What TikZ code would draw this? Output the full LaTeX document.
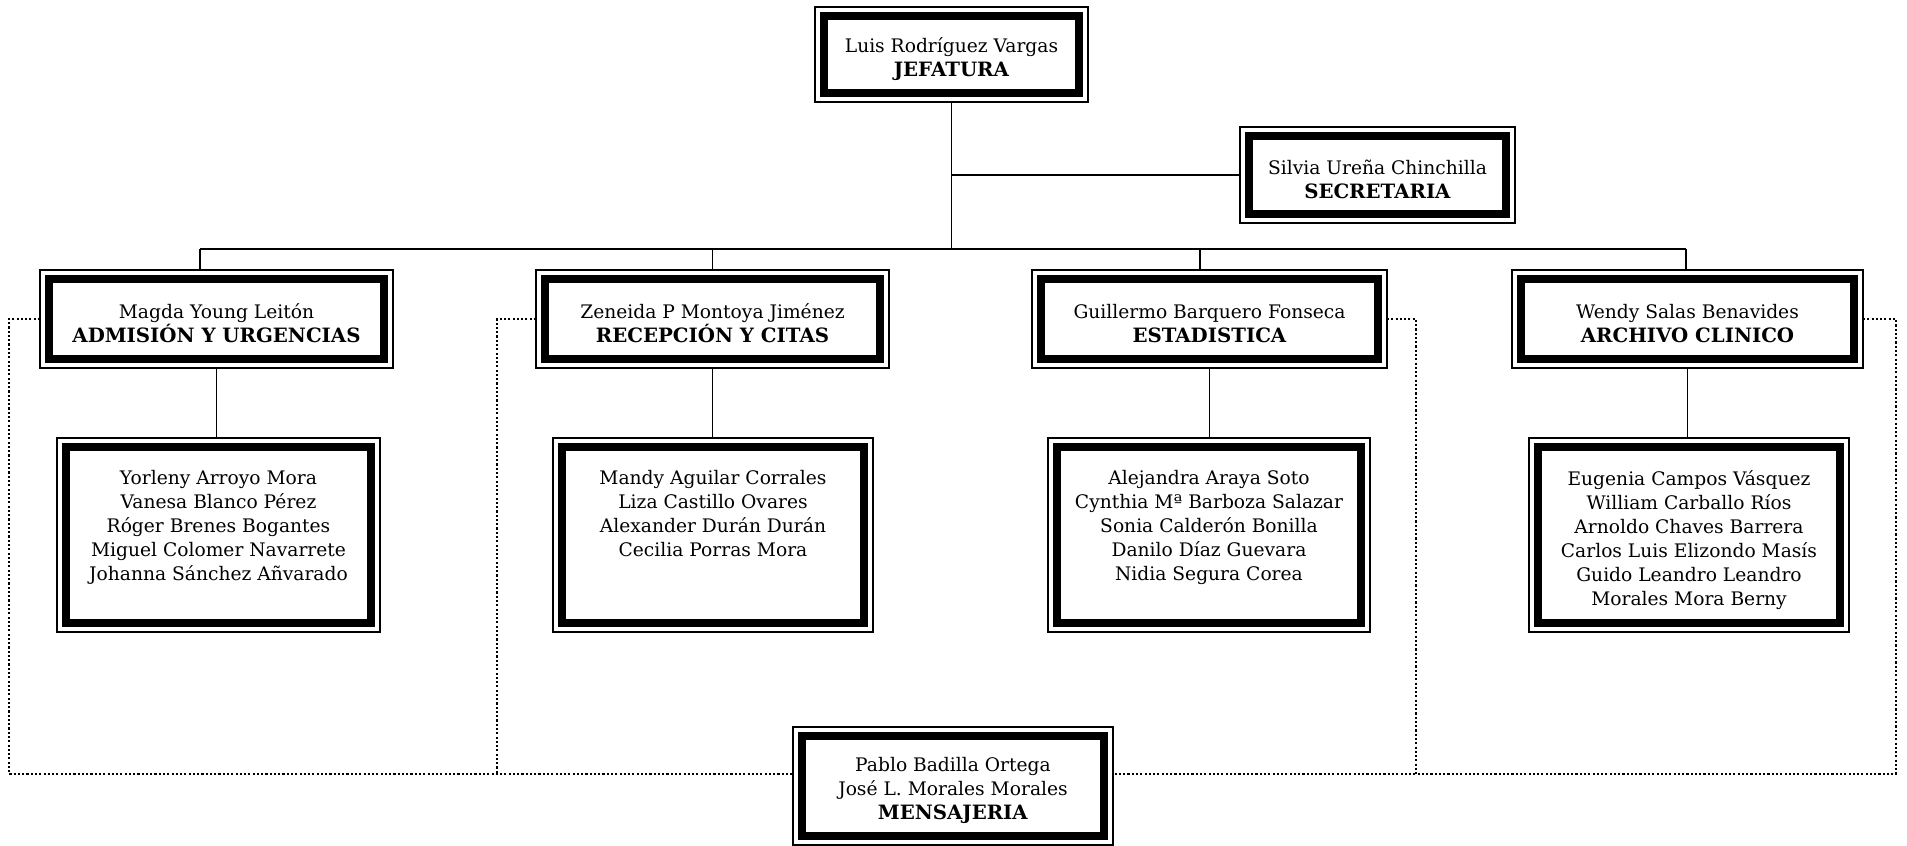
\documentclass[tikz,border=0pt]{standalone}
\usepackage{fontspec}
\setmainfont{DejaVu Serif}
\newcommand\hd[1]{\textbf{\fontsize{14.8}{18}\selectfont #1}}
\tikzset{
  obox/.style={draw, line width=1.1pt, inner sep=0pt, outer sep=0pt},
  thickframe/.style={line width=6pt},
  boxtext/.style={align=center, inner sep=0pt, font=\fontsize{14}{18}\selectfont},
  link/.style={line width=1.1pt},
  dotlink/.style={line width=1.6pt, dash pattern=on 1.6pt off 1.6pt},
  names/.style={align=center, inner sep=0pt, anchor=north,
    font=\fontsize{14}{18}\selectfont},
}
\newcommand\framedbox[6]{%
  \node[obox, minimum width={(#4-#2)*0.75pt}, minimum height={(#5-#3)*0.75pt}]
    (#1) at ({(#2+#4)/2},{(#3+#5)/2}) {};
  \draw[thickframe] ([shift={(9,9)}]#1.north west) rectangle ([shift={(-9,-9)}]#1.south east);
  \node[boxtext] (#1-t) at ([yshift=-3.5pt]#1.center) {#6};
}
\begin{document}
\begin{tikzpicture}[x=0.75pt,y=-0.75pt]
\useasboundingbox (0,0) rectangle (1907,846);
% top level
\framedbox{jef}{815}{7}{1088}{102}{Luis Rodríguez Vargas\\\hd{JEFATURA}}
\framedbox{sec}{1240}{127}{1515}{223}{Silvia Ureña Chinchilla\\\hd{SECRETARIA}}
% level 2
\framedbox{adm}{40}{270}{393}{368}{Magda Young Leitón\\\hd{ADMISIÓN Y URGENCIAS}}
\framedbox{rec}{536}{270}{889}{368}{Zeneida P Montoya Jiménez\\\hd{RECEPCIÓN Y CITAS}}
\framedbox{est}{1032}{270}{1387}{368}{Guillermo Barquero Fonseca\\\hd{ESTADISTICA}}
\framedbox{arc}{1512}{270}{1863}{368}{Wendy Salas Benavides\\\hd{ARCHIVO CLINICO}}
% staff boxes
\framedbox{c1}{57}{438}{380}{632}{}
\framedbox{c2}{553}{438}{873}{632}{}
\framedbox{c3}{1048}{438}{1370}{632}{}
\framedbox{c4}{1529}{438}{1849}{632}{}
\node[names] (c1t) at (218.5,470) {Yorleny Arroyo Mora\\Vanesa Blanco Pérez\\Róger Brenes Bogantes\\Miguel Colomer Navarrete\\Johanna Sánchez Añvarado};
\node[names] (c2t) at (713,470) {Mandy Aguilar Corrales\\Liza Castillo Ovares\\Alexander Durán Durán\\Cecilia Porras Mora};
\node[names] (c3t) at (1209,470) {Alejandra Araya Soto\\Cynthia Mª Barboza Salazar\\Sonia Calderón Bonilla\\Danilo Díaz Guevara\\Nidia Segura Corea};
\node[names] (c4t) at (1689,470) {Eugenia Campos Vásquez\\William Carballo Ríos\\Arnoldo Chaves Barrera\\Carlos Luis Elizondo Masís\\Guido Leandro Leandro\\Morales Mora Berny};
% messengers
\framedbox{men}{793}{727}{1113}{845}{Pablo Badilla Ortega\\José L. Morales Morales\\\hd{MENSAJERIA}}
% solid connectors
\coordinate (barL) at (200,249);
\coordinate (barE) at (1200,249);
\coordinate (barR) at (1686,249);
\draw[link] (jef.south) -- (jef.south |- barL);
\draw[link] (jef.south |- sec.west) -- (sec.west);
\draw[link] (barL) -- (barR);
\draw[link] (barL) -- (barL |- adm.north);
\draw[link] (rec.north |- barL) -- (rec.north);
\draw[link] (barE) -- (barE |- est.north);
\draw[link] (barR) -- (barR |- arc.north);
\draw[link] (adm.south) -- (adm.south |- c1.north);
\draw[link] (rec.south) -- (rec.south |- c2.north);
\draw[link] (est.south) -- (est.south |- c3.north);
\draw[link] (arc.south) -- (arc.south |- c4.north);
% dotted connectors
\coordinate (dA) at (9,774);
\coordinate (dR) at (497,774);
\coordinate (dE) at (1416,774);
\coordinate (dC) at (1896,774);
\draw[dotlink] (adm.west) -| (dA) -- (men.west |- dA);
\draw[dotlink] (rec.west) -| (dR);
\draw[dotlink] (est.east) -| (dE);
\draw[dotlink] (arc.east) -| (dC) -- (men.east |- dC);
\end{tikzpicture}
\end{document}
